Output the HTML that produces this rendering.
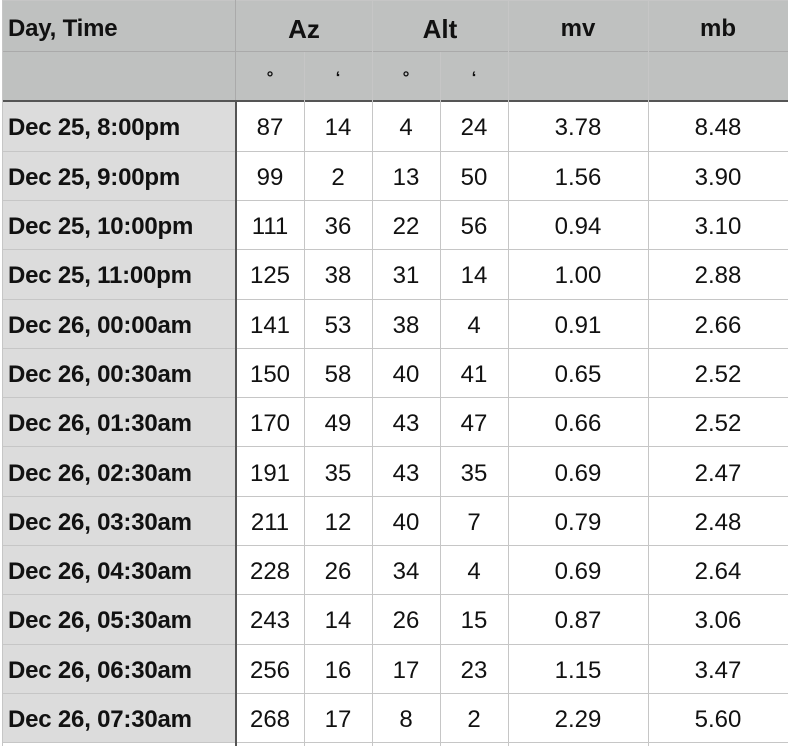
<!DOCTYPE html>
<html><head><meta charset="utf-8"><style>
body{margin:0;width:788px;height:748px;background:#fff;overflow:hidden;font-family:"Liberation Sans",Arial,sans-serif;}
#t{position:absolute;left:0;top:0;width:788px;height:748px;}
.c{position:absolute;box-sizing:border-box;display:flex;align-items:center;justify-content:center;color:#111;font-size:24px;padding-top:3px;}
.h{background:#bfc1c0;font-weight:bold;}
.l{background:#dcdcdc;font-weight:bold;justify-content:flex-start;padding-left:5px;font-size:24px;letter-spacing:-0.2px;}
.line{position:absolute;background:#c6c6c6;}
</style></head><body>
<div id="t"></div>
<script>
const times=["Dec 25, 8:00pm","Dec 25, 9:00pm","Dec 25, 10:00pm","Dec 25, 11:00pm","Dec 26, 00:00am","Dec 26, 00:30am","Dec 26, 01:30am","Dec 26, 02:30am","Dec 26, 03:30am","Dec 26, 04:30am","Dec 26, 05:30am","Dec 26, 06:30am","Dec 26, 07:30am"];
const azDeg=[87,99,111,125,141,150,170,191,211,228,243,256,268];
const azMin=[14,2,36,38,53,58,49,35,12,26,14,16,17];
const altDeg=[4,13,22,31,38,40,43,43,40,34,26,17,8];
const altMin=[24,50,56,14,4,41,47,35,7,4,15,23,2];
const mv=["3.78","1.56","0.94","1.00","0.91","0.65","0.66","0.69","0.79","0.69","0.87","1.15","2.29"];
const mb=["8.48","3.90","3.10","2.88","2.66","2.52","2.52","2.47","2.48","2.64","3.06","3.47","5.60"];
const t=document.getElementById('t');
const X=[3,236,304,372,440,508,648,788];
function cell(x,y,w,h,txt,cls,name){const d=document.createElement('div');d.className='c '+(cls||'');d.style.left=x+'px';d.style.top=y+'px';d.style.width=w+'px';d.style.height=h+'px';d.textContent=txt;


t.appendChild(d);return d;}
function line(x,y,w,h,c,name){const d=document.createElement('div');d.className='line';d.style.left=x+'px';d.style.top=y+'px';d.style.width=w+'px';d.style.height=h+'px';if(c)d.style.background=c;


t.appendChild(d);}
cell(3,1,785,100,'','h','header-background');
let a=cell(3,2,233,51,'Day, Time','h l','header-day-time');a.style.background='#bfc1c0';
a=cell(236,2,136,51,'Az','h','header-az');a.style.fontSize='26px';
a=cell(372,2,136,51,'Alt','h','header-alt');a.style.fontSize='26px';
cell(508,2,140,51,'mv','h','header-mv');
cell(648,2,140,51,'mb','h','header-mb');
const sub=['°','‘','°','‘'];
for(let i=0;i<4;i++){const s=cell(X[i+1],52,68,48,sub[i],'h','header-unit');s.style.fontSize='17px';s.style.paddingTop='4px';}
const y0=102.3,rh=49.3;
for(let r=0;r<times.length;r++){const y=y0+r*rh;
cell(3,y,233,rh,times[r],'l','row-time');
const vals=[azDeg[r],azMin[r],altDeg[r],altMin[r],mv[r],mb[r]];
const names=['az-degrees','az-minutes','alt-degrees','alt-minutes','mv-value','mb-value'];
for(let k=0;k<6;k++)cell(X[k+1],y,X[k+2]-X[k+1],rh,String(vals[k]),'',names[k]);
}
line(3,0,785,1,'#c6c6c6','top-border');
line(3,51,785,1,'#aaaaaa','header-divider');
line(3,100,785,2,'#555','header-bottom-rule');
for(let r=1;r<=13;r++)line(3,Math.round(y0+r*rh)-1,785,1,'#c6c6c6','row-divider');
line(2,0,1,746,'#c6c6c6','left-border');
line(235,0,1,100,'#aaaaaa','col-divider');
line(235,100,2,646,'#555','label-column-rule');
for(let i=2;i<7;i++){const top=(i===2||i===4)?52:0;line(X[i],top,1,746-top,'#c6c6c6','col-divider');}
</script>
</body></html>
